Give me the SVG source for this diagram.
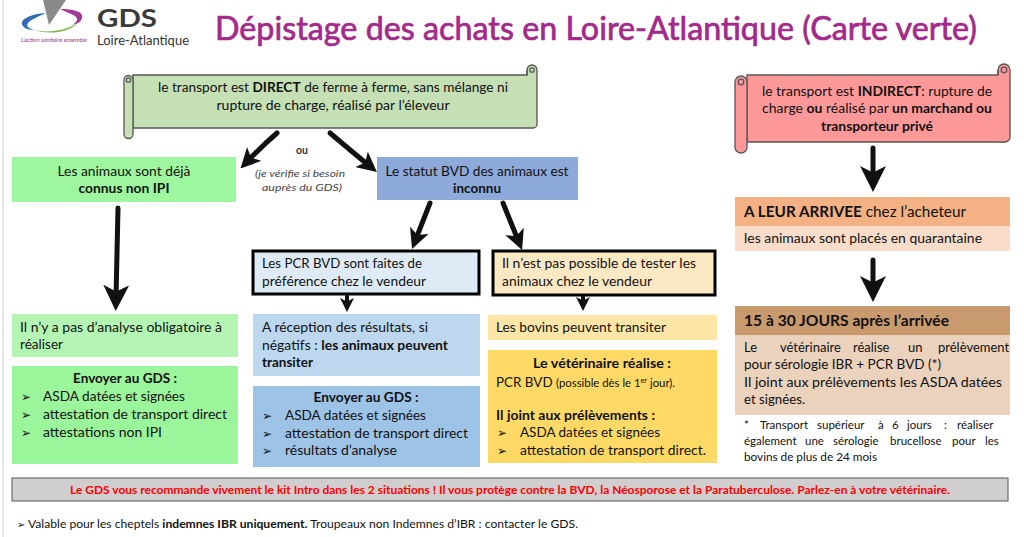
<svg xmlns="http://www.w3.org/2000/svg" width="1024" height="537" viewBox="0 0 1024 537">
<style>
text{font-family:Lato,"Liberation Sans",sans-serif;fill:#111;font-size:13px}
.b{font-weight:bold}
.c{text-anchor:middle}
.bul{font-family:"DejaVu Sans",sans-serif;font-size:12px}
.big{font-size:15px}
.note{font-size:11.5px}
.conn path{fill:none;stroke:#111;stroke-linecap:round}
.frame{stroke:#000;stroke-width:3}
.scroll{stroke:#555;stroke-width:1.3}
</style>
<defs>
<marker id="hL" markerUnits="userSpaceOnUse" markerWidth="26" markerHeight="26" viewBox="0 0 10 10" refX="5" refY="5" orient="auto"><path d="M0,0 L10,5 L0,10 L2.5,5 Z" fill="#111"/></marker>
<marker id="hM" markerUnits="userSpaceOnUse" markerWidth="20" markerHeight="20" viewBox="0 0 10 10" refX="5" refY="5" orient="auto"><path d="M0,0 L10,5 L0,10 L2.5,5 Z" fill="#111"/></marker>
<marker id="hS" markerUnits="userSpaceOnUse" markerWidth="14" markerHeight="14" viewBox="0 0 10 10" refX="5" refY="5" orient="auto"><path d="M0,0 L10,5 L0,10 L2.5,5 Z" fill="#111"/></marker>
</defs>
<rect width="1024" height="537" fill="#fff"/>
<line x1="3" y1="0" x2="3" y2="537" stroke="#cfcfcf" stroke-width="1"/>

<g id="logo">
<polygon points="43,0 66,0 49,25" fill="#8a8a8a"/>
<path d="M46,13 C30,14 18,20 23,26 C25,29 30,30 34,30 C27,28 25,25 30,21 C34,18 40,16 46,13 Z" fill="#2f6db5"/>
<path d="M60,9 C72,9 84,11 82,18 C81,22 77,24 72,25 C77,22 79,19 75,16 C72,14 66,12 60,9 Z" fill="#a0399a"/>
<path d="M32,29 C45,34 65,31 78,23 C70,32 48,36 32,29 Z" fill="#7ab648"/>
<text x="97" y="27" class="b" style="font-size:24px;fill:#3a3a3a" textLength="60" lengthAdjust="spacingAndGlyphs">GDS</text>
<text x="97" y="44.5" style="font-size:12.5px;fill:#333" textLength="92" lengthAdjust="spacingAndGlyphs">Loire-Atlantique</text>
<text x="21" y="42" style="font-size:6px;font-style:italic;fill:#8b3b8b" textLength="66" lengthAdjust="spacingAndGlyphs">L’action sanitaire ensemble</text>
</g>

<g id="title">
<text x="215" y="40" style="font-size:33px;fill:#a3298a;stroke:#a3298a;stroke-width:0.7" textLength="762" lengthAdjust="spacingAndGlyphs">Dépistage des achats en Loire-Atlantique (Carte verte)</text>
</g>

<g id="direct">
<path class="scroll" d="M133,75 H527 V70 A5,5 0 0 1 537,70 V124 A4,4 0 0 1 533,128 H133 Z" fill="#c5e0b4"/>
<path class="scroll" d="M133,80 A4.5,4.5 0 0 0 124,80 V134 A4.5,4.5 0 0 0 133,134 Z" fill="#c5e0b4"/>
<circle class="scroll" cx="128.5" cy="80" r="2.2" fill="none"/>
<circle class="scroll" cx="532" cy="70" r="2.2" fill="none"/>
<line class="scroll" x1="527" y1="70" x2="527" y2="75"/>
<text x="333" y="92" class="c" textLength="350" lengthAdjust="spacingAndGlyphs">le transport est <tspan class="b">DIRECT</tspan> de ferme à ferme, sans mélange ni</text>
<text x="333" y="110" class="c" textLength="233" lengthAdjust="spacingAndGlyphs">rupture de charge, réalisé par l’éleveur</text>
</g>

<g id="ou">
<text x="302" y="154" class="c" style="font-size:10.5px;fill:#333;font-weight:bold">ou</text>
<text x="300" y="177" class="c" style="font-size:10px;font-style:italic;fill:#444" textLength="90" lengthAdjust="spacingAndGlyphs">(je vérifie si besoin</text>
<text x="302" y="191" class="c" style="font-size:10px;font-style:italic;fill:#444" textLength="80" lengthAdjust="spacingAndGlyphs">auprès du GDS)</text>
</g>

<g id="connus">
<rect x="12" y="157" width="224" height="45" fill="#9ef79e"/>
<text x="124" y="176" class="c" textLength="133" lengthAdjust="spacingAndGlyphs">Les animaux sont déjà</text>
<text x="124" y="193" class="c b" textLength="91" lengthAdjust="spacingAndGlyphs">connus non IPI</text>
</g>

<g id="inconnu">
<rect x="377" y="157" width="201" height="43" fill="#8eaadb"/>
<text x="477" y="176" class="c" textLength="183" lengthAdjust="spacingAndGlyphs">Le statut BVD des animaux est</text>
<text x="477" y="193" class="c b" textLength="48" lengthAdjust="spacingAndGlyphs">inconnu</text>
</g>

<g id="pcr">
<rect x="253" y="251" width="226" height="43" fill="#deebf7" class="frame"/>
<text x="262" y="268" textLength="160" lengthAdjust="spacingAndGlyphs">Les PCR BVD sont faites de</text>
<text x="262" y="286" textLength="164" lengthAdjust="spacingAndGlyphs">préférence chez le vendeur</text>
</g>

<g id="impossible">
<rect x="493" y="251" width="222" height="44" fill="#fde8c4" class="frame"/>
<text x="502" y="268" textLength="194" lengthAdjust="spacingAndGlyphs">Il n’est pas possible de tester les</text>
<text x="502" y="286" textLength="150" lengthAdjust="spacingAndGlyphs">animaux chez le vendeur</text>
</g>

<g id="pasanalyse">
<rect x="12" y="314" width="226" height="43" fill="#b4f5b4"/>
<text x="20" y="332" textLength="202" lengthAdjust="spacingAndGlyphs">Il n’y a pas d’analyse obligatoire à</text>
<text x="20" y="349" textLength="43" lengthAdjust="spacingAndGlyphs">réaliser</text>
</g>

<g id="envoyer-vert">
<rect x="12" y="366" width="226" height="98" fill="#9bf59b"/>
<text x="125" y="383" class="c b" textLength="104" lengthAdjust="spacingAndGlyphs">Envoyer au GDS :</text>
<text x="21" y="401" class="bul">➢</text>
<text x="43" y="401" textLength="142" lengthAdjust="spacingAndGlyphs">ASDA datées et signées</text>
<text x="21" y="419" class="bul">➢</text>
<text x="43" y="419" textLength="184" lengthAdjust="spacingAndGlyphs">attestation de transport direct</text>
<text x="21" y="437" class="bul">➢</text>
<text x="43" y="437" textLength="119" lengthAdjust="spacingAndGlyphs">attestations non IPI</text>
</g>

<g id="reception">
<rect x="253" y="314" width="227" height="62" fill="#bdd7ee"/>
<text x="262" y="332" textLength="166" lengthAdjust="spacingAndGlyphs">A réception des résultats, si</text>
<text x="262" y="350" textLength="186" lengthAdjust="spacingAndGlyphs">négatifs : <tspan class="b">les animaux peuvent</tspan></text>
<text x="262" y="367" class="b" textLength="51" lengthAdjust="spacingAndGlyphs">transiter</text>
</g>

<g id="envoyer-bleu">
<rect x="253" y="386" width="227" height="81" fill="#9dc3e6"/>
<text x="366" y="402" class="c b" textLength="105" lengthAdjust="spacingAndGlyphs">Envoyer au GDS :</text>
<text x="262" y="420" class="bul">➢</text>
<text x="285" y="420" textLength="141" lengthAdjust="spacingAndGlyphs">ASDA datées et signées</text>
<text x="262" y="438" class="bul">➢</text>
<text x="285" y="438" textLength="183" lengthAdjust="spacingAndGlyphs">attestation de transport direct</text>
<text x="262" y="455" class="bul">➢</text>
<text x="285" y="455" textLength="112" lengthAdjust="spacingAndGlyphs">résultats d’analyse</text>
</g>

<g id="bovins">
<rect x="488" y="315" width="229" height="25" fill="#fee7a6"/>
<text x="496" y="332" textLength="170" lengthAdjust="spacingAndGlyphs">Les bovins peuvent transiter</text>
</g>

<g id="veterinaire">
<rect x="488" y="350" width="229" height="113" fill="#ffd966"/>
<text x="602" y="368" class="c b" textLength="138" lengthAdjust="spacingAndGlyphs">Le vétérinaire réalise :</text>
<text x="496" y="387" textLength="179" lengthAdjust="spacingAndGlyphs">PCR BVD <tspan style="font-size:11px">(possible dès le 1<tspan style="font-size:7px" dy="-4">er</tspan><tspan dy="4"> jour).</tspan></tspan></text>
<text x="496" y="420" class="b" textLength="159" lengthAdjust="spacingAndGlyphs">Il joint aux prélèvements :</text>
<text x="497" y="437" class="bul">➢</text>
<text x="520" y="437" textLength="140" lengthAdjust="spacingAndGlyphs">ASDA datées et signées</text>
<text x="497" y="455" class="bul">➢</text>
<text x="520" y="455" textLength="186" lengthAdjust="spacingAndGlyphs">attestation de transport direct.</text>
</g>

<g id="indirect">
<path class="scroll" d="M747,75 H998 V70 A6,6 0 0 1 1010,70 V137 A5,5 0 0 1 1005,142 H747 Z" fill="#ff9999"/>
<path class="scroll" d="M747,82 A6,6 0 0 0 735,82 V147 A6,6 0 0 0 747,147 Z" fill="#ff9999"/>
<circle class="scroll" cx="741" cy="82" r="2.8" fill="none"/>
<circle class="scroll" cx="1004" cy="70" r="2.8" fill="none"/>
<line class="scroll" x1="998" y1="70" x2="998" y2="75"/>
<text x="877" y="96" class="c" textLength="230" lengthAdjust="spacingAndGlyphs">le transport est  <tspan class="b">INDIRECT</tspan>: rupture de</text>
<text x="877" y="113" class="c" textLength="230" lengthAdjust="spacingAndGlyphs">charge <tspan class="b">ou</tspan> réalisé par <tspan class="b">un marchand ou</tspan></text>
<text x="877" y="131" class="c b" textLength="112" lengthAdjust="spacingAndGlyphs">transporteur privé</text>
</g>

<g id="arrivee">
<rect x="735" y="197" width="275" height="29" fill="#f4b183"/>
<rect x="735" y="226" width="275" height="25" fill="#f9ddca"/>
<text x="744" y="217" class="big" textLength="222" lengthAdjust="spacingAndGlyphs"><tspan class="b">A LEUR ARRIVEE</tspan> chez l’acheteur</text>
<text x="744" y="243" textLength="238" lengthAdjust="spacingAndGlyphs">les animaux sont placés en quarantaine</text>
</g>

<g id="jours">
<rect x="735" y="306" width="275" height="29" fill="#c89a6e"/>
<rect x="735" y="335" width="275" height="80" fill="#ead2bd"/>
<text x="744" y="326" class="big b" textLength="205" lengthAdjust="spacingAndGlyphs">15 à 30 JOURS après l’arrivée</text>
<text y="352"><tspan x="744">Le</tspan><tspan x="780">vétérinaire</tspan><tspan x="853">réalise</tspan><tspan x="908">un</tspan><tspan x="938">prélèvement</tspan></text>
<text x="744" y="369" textLength="197" lengthAdjust="spacingAndGlyphs">pour sérologie IBR + PCR BVD (*)</text>
<text x="744" y="387" textLength="258" lengthAdjust="spacingAndGlyphs">Il joint aux prélèvements les ASDA datées</text>
<text x="744" y="404" textLength="61" lengthAdjust="spacingAndGlyphs">et signées.</text>
</g>

<g id="note">
<text y="429" class="note"><tspan x="744">*</tspan><tspan x="760">Transport</tspan><tspan x="817">supérieur</tspan><tspan x="878">à</tspan><tspan x="892">6</tspan><tspan x="907">jours</tspan><tspan x="944">:</tspan><tspan x="957">réaliser</tspan></text>
<text y="445" class="note"><tspan x="744">également</tspan><tspan x="805">une</tspan><tspan x="833">sérologie</tspan><tspan x="890">brucellose</tspan><tspan x="952">pour</tspan><tspan x="985">les</tspan></text>
<text x="744" y="461" class="note" textLength="133" lengthAdjust="spacingAndGlyphs">bovins de plus de 24 mois</text>
</g>

<g id="banner">
<rect x="12" y="478" width="996" height="23" fill="#d0cece" stroke="#555" stroke-width="1"/>
<text x="510" y="494" class="c b" style="font-size:11px;fill:#ff0000" textLength="880" lengthAdjust="spacingAndGlyphs">Le GDS vous recommande vivement le kit Intro dans les 2 situations ! Il vous protège contre la BVD, la Néosporose et la Paratuberculose. Parlez-en à votre vétérinaire.</text>
</g>

<g id="footer">
<text x="17" y="528" class="bul" style="font-size:10px">➢</text>
<text x="28" y="528" class="note" textLength="550" lengthAdjust="spacingAndGlyphs">Valable pour les cheptels <tspan class="b">indemnes IBR uniquement.</tspan> Troupeaux non Indemnes d’IBR : contacter le GDS.</text>
</g>

<g id="connectors" class="conn">
<path d="M277,133 Q262,146 247.4,161.2" stroke-width="5" marker-end="url(#hM)"/>
<path d="M330,133 Q350,150 369.2,165.7" stroke-width="5" marker-end="url(#hM)"/>
<path d="M118,208 L116,298" stroke-width="5" marker-end="url(#hL)"/>
<path d="M430,203 L415.7,239.7" stroke-width="5" marker-end="url(#hM)"/>
<path d="M503,203 L518.3,240.7" stroke-width="5" marker-end="url(#hM)"/>
<path d="M347,296 L347,305" stroke-width="4" marker-end="url(#hS)"/>
<path d="M583,297 L583,304" stroke-width="4" marker-end="url(#hS)"/>
<path d="M873,148 L873,179" stroke-width="5" marker-end="url(#hL)"/>
<path d="M873,260 L873,289" stroke-width="5" marker-end="url(#hL)"/>
</g>
</svg>
